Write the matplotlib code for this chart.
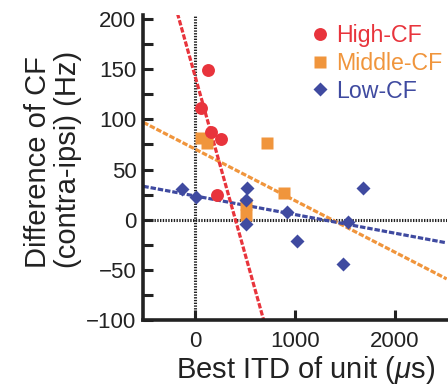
import numpy as np
import matplotlib
matplotlib.use("Agg")
import matplotlib.pyplot as plt

plt.rcParams.update({
    "font.family": ["Liberation Sans", "DejaVu Sans"],
    "font.size": 16,
    "mathtext.fontset": "custom",
    "mathtext.rm": "Liberation Sans",
    "mathtext.it": "Liberation Sans:italic",
})

# --- data ---
high_x = [60, 127, 157, 217, 260]
high_y = [111, 149, 87, 25, 80]
mid_x = [60, 123, 510, 510, 717, 893]
mid_y = [81, 76, 16, 5, 76, 27]
low_x = [-127, 7, 507, 510, 520, 917, 1017, 1483, 1530, 1677]
low_y = [31, 23, 20, -4, 32, 8, -21, -44, -2, 32]

# regression lines (slope per us, intercept Hz)
high_fit = (-0.355, 143.7)
mid_fit = (-0.0515, 70.5)
low_fit = (-0.0186, 23.7)

RED = "#e8343c"
ORANGE = "#f0953c"
BLUE = "#3f4aa0"
INK = "#222222"

XLIM = (-515, 2515)
YLIM = (-100, 204)

fig = plt.figure(figsize=(4.48, 3.86), dpi=100)
ax = fig.add_axes([0.32, 0.171, 0.677, 0.79])

zero_style = dict(color=INK, lw=2.2, ls=(0, (0.45, 0.45)), zorder=1)
ax.axhline(0, **zero_style)
ax.axvline(0, **zero_style)

xx = np.array(XLIM, dtype=float)
dash = (0, (1.7, 0.6))
for (m, b), c in [(mid_fit, ORANGE), (low_fit, BLUE), (high_fit, RED)]:
    ax.plot(xx, m * xx + b, color=c, lw=2.3, ls=dash, zorder=2)

ax.plot(mid_x, mid_y, "s", color=ORANGE, ms=8, mec="none", zorder=3, label="Middle-CF")
ax.plot(high_x, high_y, "o", color=RED, ms=9.3, mec="none", zorder=4, label="High-CF")
ax.plot(low_x, low_y, "D", color=BLUE, ms=6.8, mec="none", zorder=5, label="Low-CF")

ax.set_xlim(*XLIM)
ax.set_ylim(*YLIM)
ax.set_xticks([0, 1000, 2000])
ax.set_yticks(np.arange(-100, 201, 50))
ax.set_yticks(np.arange(-100, 201, 25), minor=True)
ax.tick_params(direction="in", length=7, width=2.2, pad=5, colors=INK, labelcolor=INK)
ax.tick_params(axis="x", pad=8)
ax.tick_params(which="minor", direction="in", length=7, width=2.2, color=INK)
for s in ["top", "right"]:
    ax.spines[s].set_visible(False)
for s in ["left", "bottom"]:
    ax.spines[s].set_linewidth(2.6)
    ax.spines[s].set_color(INK)

ax.set_xlabel(r"Best ITD of unit ($\mu$s)", fontsize=21, color=INK)
ax.xaxis.set_label_coords(0.535, -0.112, transform=ax.transAxes)
ax.xaxis.label.set_va("top")
fig.text(0.118, 0.306, "Difference of CF\n(contra-ipsi) (Hz)", rotation=90,
         ha="center", va="bottom", multialignment="left", fontsize=21, color=INK,
         linespacing=1.08)

h, l = ax.get_legend_handles_labels()
order = [1, 0, 2]
ax.legend([h[i] for i in order], [l[i] for i in order], loc="upper left",
          bbox_to_anchor=(0.52, 1.0), frameon=False, labelcolor="markerfacecolor",
          handlelength=0.8, handletextpad=0.3, labelspacing=0.2, borderaxespad=0,
          fontsize=16.7)

fig.savefig("out.png", dpi=100)
